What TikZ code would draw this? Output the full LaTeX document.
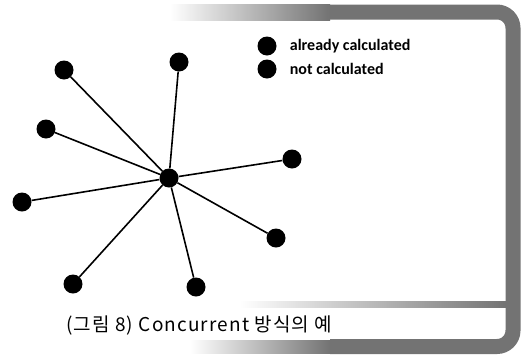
\documentclass[tikz,border=0pt]{standalone}
\usepackage{fontspec}
\usepackage{tikz}
\usetikzlibrary{positioning}
\setsansfont{Carlito}
\newfontfamily\krfont[LetterSpace=6]{Noto Sans CJK KR}
\definecolor{scanGray}{gray}{0.45}

\begin{document}
\begin{tikzpicture}[x=1pt,y=-1pt, dot/.style={circle,fill=black,minimum size=19pt,inner sep=0pt}, link/.style={line width=1.6pt}]
  \useasboundingbox (0,0) rectangle (525,354);
  % scanned frame
  \shade[left color=white,right color=scanGray] (170,4) rectangle (330,20);
  \shade[left color=white,right color=scanGray] (190,340) rectangle (330,353);
  \shade[left color=white,right color=scanGray] (240,301) rectangle (506,307);
  \draw[scanGray,line width=15pt,rounded corners=16pt] (330,12) -- (513,12) -- (513,346.5) -- (330,346.5);
  % star
  \node[dot] (c) at (169,178) {};
  \node[dot] (n1) at (64,70) {};
  \node[dot] (n2) at (179,62) {};
  \node[dot] (n3) at (46,129) {};
  \node[dot] (n4) at (292,159) {};
  \node[dot] (n5) at (22,202) {};
  \node[dot] (n6) at (276,238) {};
  \node[dot] (n7) at (73,284) {};
  \node[dot] (n8) at (196,287) {};
  \foreach \n in {n1,n2,n3,n4,n5,n6,n7,n8}
    \draw[link] (c) -- (\n);
  % legend
  \node[dot] (l1) at (267,46) {};
  \node[dot] (l2) at (267,69) {};
  \node[right=13pt of l1,font=\sffamily\bfseries\fontsize{16}{18}\selectfont,inner sep=0pt] (t1) {already calculated};
  \node[right=13pt of l2,font=\sffamily\bfseries\fontsize{16}{18}\selectfont,inner sep=0pt] (t2) {not calculated};
  % caption
  \node[anchor=west,font=\krfont\fontsize{19}{22}\selectfont,inner sep=0pt] (cap) at (66,325) {(그림 8) Concurrent 방식의 예};
\end{tikzpicture}
\end{document}
